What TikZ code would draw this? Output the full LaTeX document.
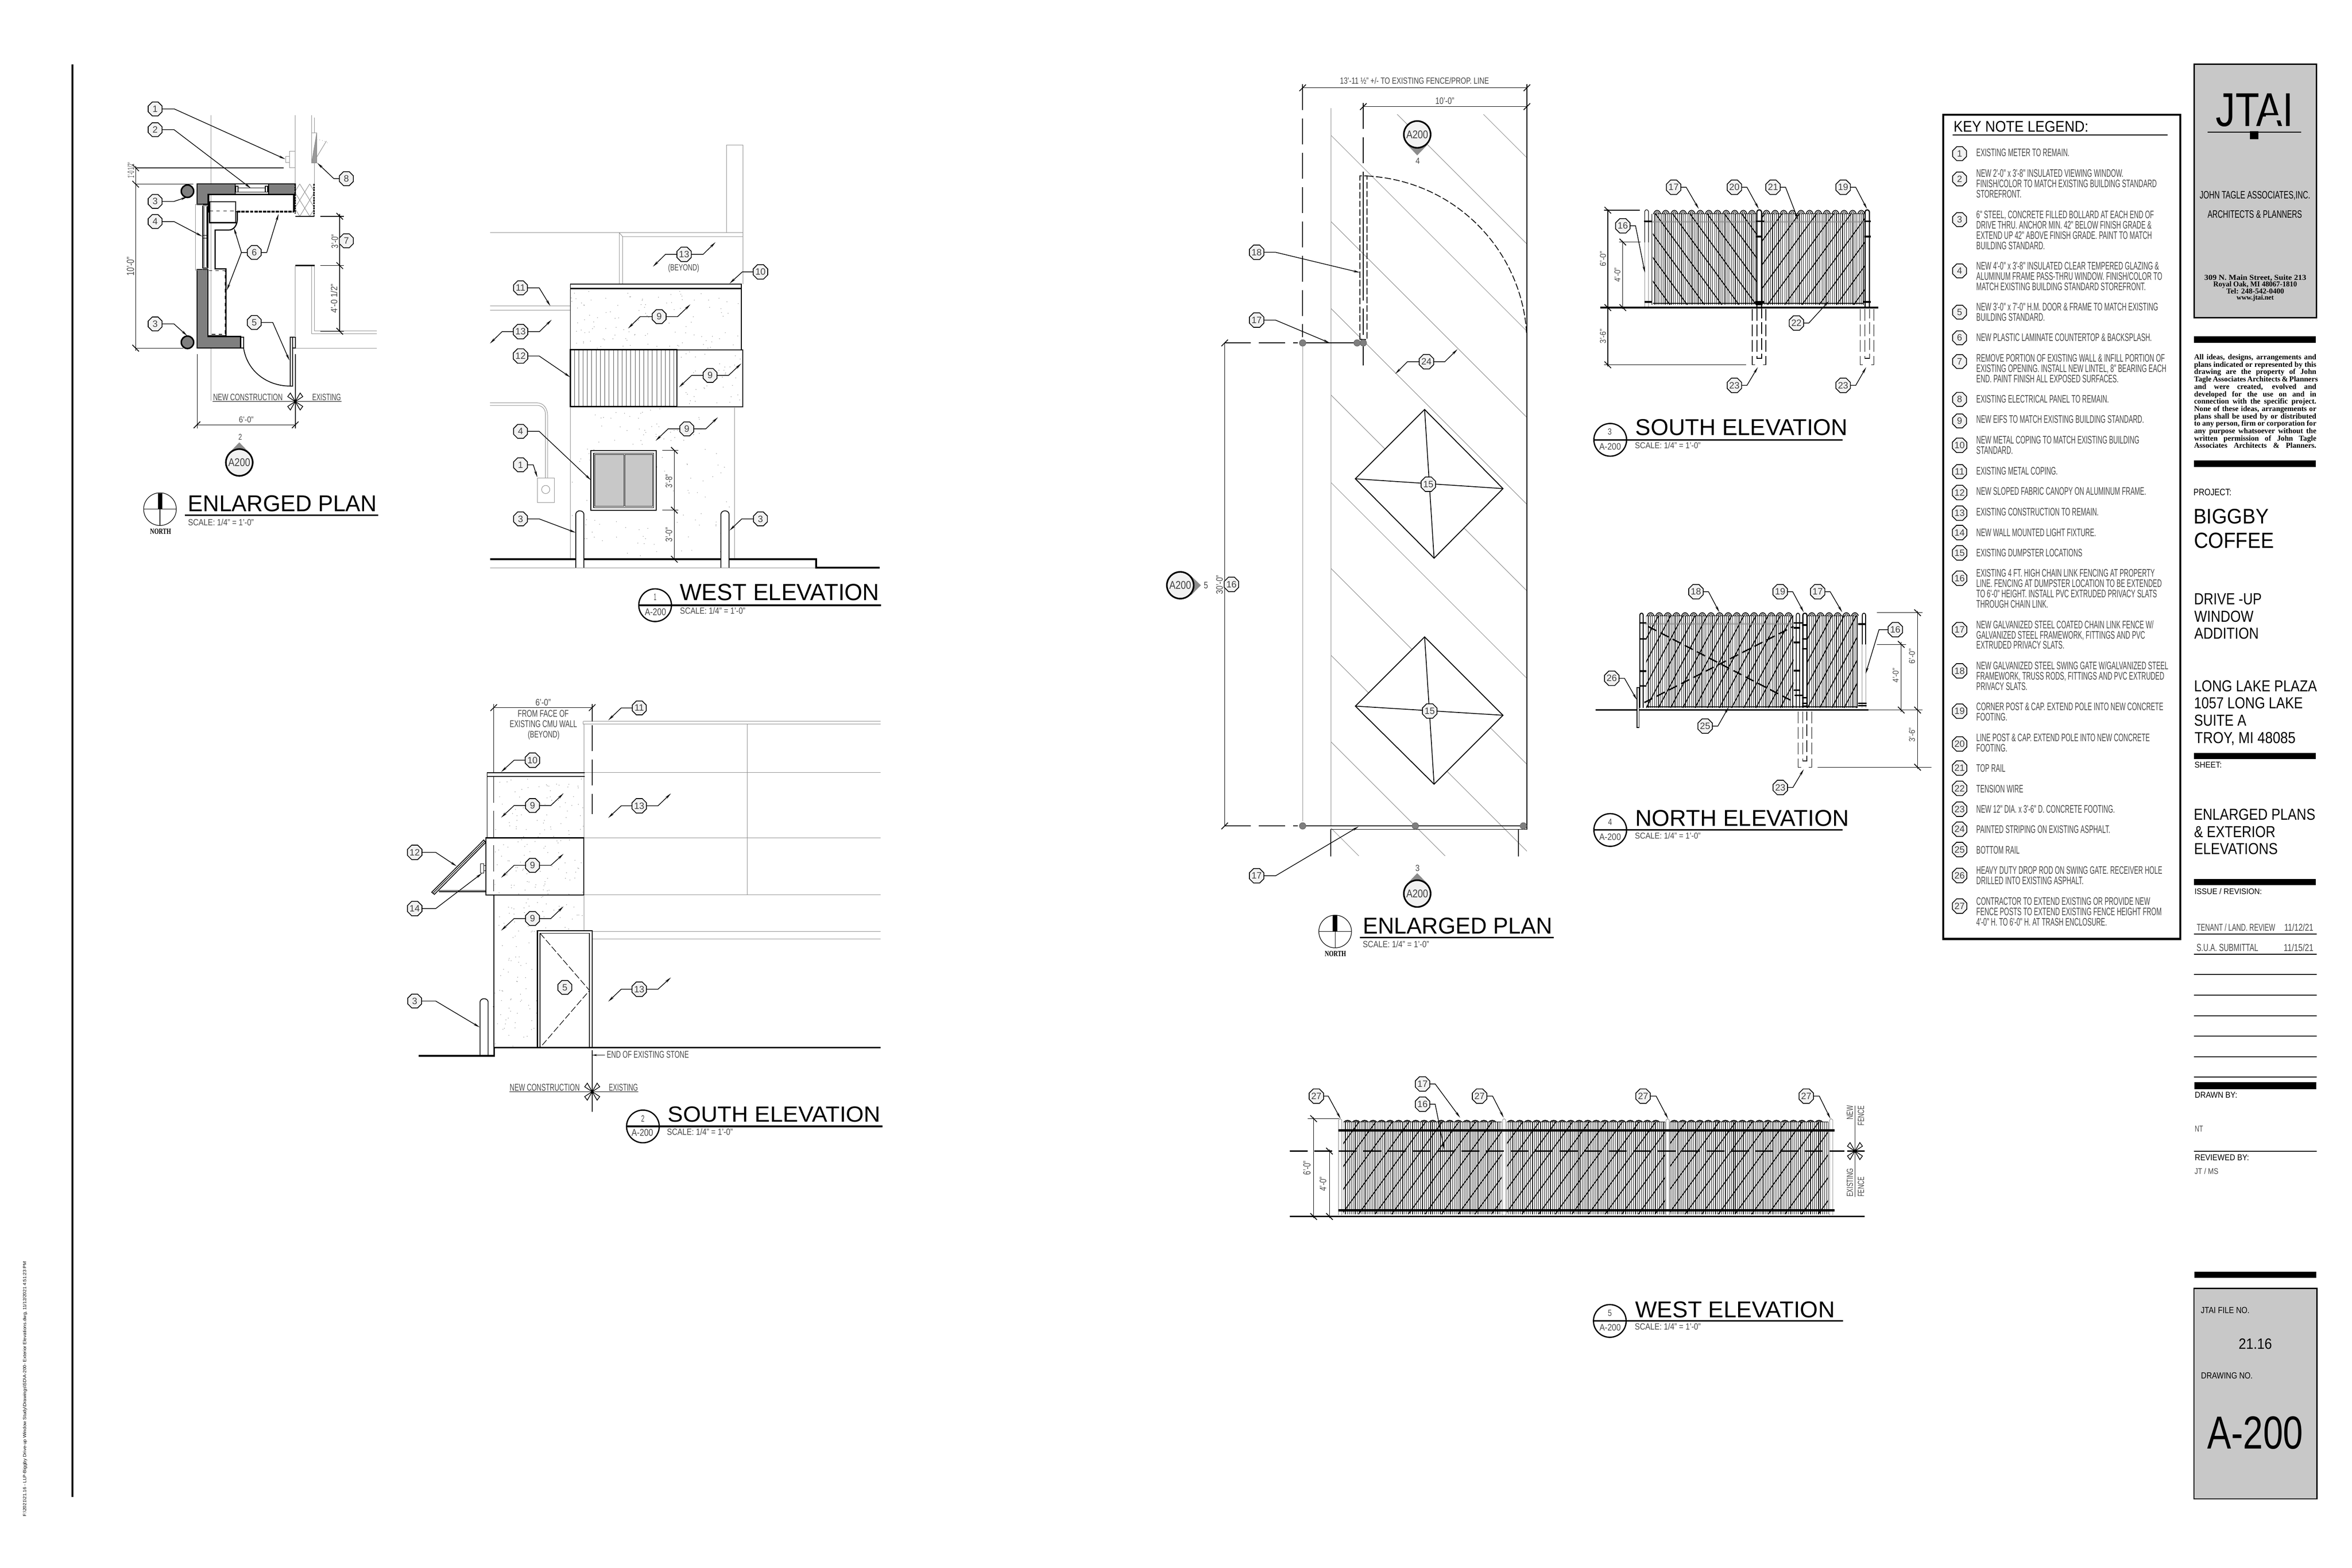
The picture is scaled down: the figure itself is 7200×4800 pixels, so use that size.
\documentclass[tikz,border=0pt]{standalone}
\usepackage{graphicx}
\usepackage{fontspec}
\setmainfont{Liberation Sans}
\newfontfamily\cadn[FakeStretch=.585]{Liberation Sans}
\newfontfamily\slab{Liberation Serif}
\usetikzlibrary{arrows.meta,shapes.geometric}
\definecolor{wallg}{HTML}{7F7F7F}
\definecolor{boxg}{HTML}{C8C8C8}
\definecolor{tagf}{HTML}{F2F2F2}
\newlength\pxu \setlength\pxu{0.01cm}
\newcounter{kc}
\tikzset{
 z1/.style={shift={(5900,300)},x=.00829cm,y=-.009566cm},
 z2/.style={shift={(5900,1700)},x=.00829cm,y=-.00829cm},
 z3/.style={shift={(6600,2900)},x=.003827cm,y=-.01148cm},
 z4/.style={shift={(400,280)},x=.005102cm,y=-.008929cm},
 z5/.style={shift={(1450,420)},x=.00829cm,y=-.009566cm},
 z6/.style={shift={(1200,2100)},x=.010204cm,y=-.009247cm},
 z7/.style={shift={(3550,200)},x=.00829cm,y=-.009566cm},
 z8/.style={shift={(3550,1700)},x=.00829cm,y=-.008929cm},
 z9/.style={shift={(4850,500)},x=.00574cm,y=-.00606cm},
 z10/.style={shift={(4850,1750)},x=.00574cm,y=-.00542cm},
 z11/.style={shift={(3900,3250)},x=.012117cm,y=-.00574cm},
 txt/.style={anchor=base west,inner sep=0pt,outer sep=0pt,text=black!72},
 tb/.style={text=black},
 sb/.style={text=black,font=\slab\bfseries},
 kn/.style={regular polygon,regular polygon sides=8,minimum size=.46cm,inner sep=0pt,outer sep=0pt,draw=black,fill=tagf,line width=.7pt,text=black!75,font=\fontsize{8}{8}\selectfont},
 ld/.style={line width=.6pt,-{Stealth[length=.2cm,width=.07cm]}},
 gl/.style={line width=.4pt,draw=black!45},
 bk/.style={line width=.7pt,draw=black},
 th/.style={line width=.5pt,draw=black},
 hv/.style={line width=1.4pt,draw=black},
 ld2/.style={dash pattern=on .8cm off .25cm},
 gd/.style={dash pattern=on .2cm off .07cm},
 fd/.style={dash pattern=on .36cm off .12cm},
 slat/.style={line width=.5pt,draw=black!90},
 dg/.style={line width=.8pt,draw=black},
 bub/.style={circle,draw=black,line width=1.1pt,minimum size=1cm,inner sep=0pt,outer sep=0pt},
 refc/.style={circle,draw=black,fill=tagf,line width=1.4pt,minimum size=.82cm,inner sep=0pt,outer sep=0pt,text=black!75},
 notet/.style={anchor=north west,inner sep=0pt,outer sep=0pt,align=left,text=black!72,font=\cadn\fontsize{9.53}{8.96}\selectfont},
}
\newcommand\FT[6][]{\stepcounter{kc}\node[txt,#1] (t\arabic{kc}) at (#2,#3) {\resizebox{#4\pxu}{#5\pxu}{#6}};}
\newcommand\KT[3]{\stepcounter{kc}\node[kn] (k\arabic{kc}) at (#1,#2) {#3};}
\newcommand\KN[6]{\stepcounter{kc}\node[kn] (k\arabic{kc}) at (#1,#2) {#3};\coordinate (c\arabic{kc}) at (#6);\draw[ld] (k\arabic{kc}.#4) -- (#5) -- (c\arabic{kc});}
\newcommand\KB[7]{\stepcounter{kc}\node[kn] (k\arabic{kc}) at (#1,#2) {#3};\coordinate (c\arabic{kc}) at (#5);\coordinate (d\arabic{kc}) at (#7);\draw[ld] (k\arabic{kc}.west) -- (#4) -- (c\arabic{kc});\draw[ld] (k\arabic{kc}.east) -- (#6) -- (d\arabic{kc});}
\newcommand\TK[2]{\draw[bk] (#1,#2) +(-.1cm,.1cm) -- +(.1cm,-.1cm);}
\newcommand\TF[2]{\draw[bk] (#1,#2) +(-.1cm,-.1cm) -- +(.1cm,.1cm);}
\newcommand\XM[2]{\foreach \sx/\sy in {1/1,-1/1,1/-1,-1/-1}{\draw[line width=.6pt] (#1,#2) -- +({\sx*.23cm},{\sy*.15cm}) -- +({\sx*.15cm},{\sy*.26cm}) -- cycle;}}
\newcommand\STIP[5]{\foreach \i in {1,...,#5}{\pgfmathsetmacro\aa{#1+rnd*(#3-#1)}\pgfmathsetmacro\bb{#2+rnd*(#4-#2)}\fill[black!45] (\aa,\bb) circle (.35pt);}}
\newcommand\NT[3]{\KT{119}{#2}{#1}\stepcounter{kc}\node[notet] (n\arabic{kc}) at (181,#3)}
\newcommand\BUBL[4]{\stepcounter{kc}\node[bub] (b\arabic{kc}) at (#1,#2) {};\coordinate (e\arabic{kc}) at (#3,#2);\draw[line width=1.4pt] (b\arabic{kc}.west) -- (e\arabic{kc});}
\newcommand\RC[2]{\stepcounter{kc}\node[refc] (r\arabic{kc}) at (#1,#2) {\resizebox{67\pxu}{24\pxu}{A200}};}
\newcommand\FENCE[8]{%
 \begin{scope}\clip (#1,#3) rectangle (#2,#4);
 \pgfmathsetmacro\xb{#1+#5}
 \foreach \x in {#1,\xb,...,#2}{\draw[slat] (\x,#3) -- (\x,#4);}
 \pgfmathsetmacro\da{#1-abs(#7)}\pgfmathsetmacro\db{\da+#6}\pgfmathsetmacro\dc{#2+abs(#7)}
 \foreach \x in {\da,\db,...,\dc}{\draw[dg] (\x,#3) -- ++(#7,#4-#3);}
 \end{scope}
 \pgfmathsetmacro\sa{#1+.5*#8}\pgfmathsetmacro\sb{\sa+#8}\pgfmathsetmacro\sc{#2-.2*#8}\pgfmathsetmacro\sw{.4*#8}\pgfmathsetmacro\sh{.5*#8}
 \foreach \x in {\sa,\sb,...,\sc}{\draw[bk] (\x-\sw,#3) .. controls (\x-.6*\sw,#3-\sh) and (\x+.6*\sw,#3-\sh) .. (\x+\sw,#3);\draw[slat] (\x-.5*\sw,#3) .. controls (\x-.3*\sw,#3-.6*\sh) and (\x+.3*\sw,#3-.6*\sh) .. (\x+.5*\sw,#3);}
 \draw[th] (#1,#3) -- (#2,#3);}
\begin{document}
\begin{tikzpicture}[x=.01cm,y=-.01cm]
\useasboundingbox (0,0) rectangle (7200,4800);
\fill[white] (0,0) rectangle (7200,4800);
\pgfmathsetseed{7}
% sheet
\draw[line width=1.4pt] (222,197) -- (222,4583);
\FT[rotate=90,text=black]{80}{4643}{781}{10}{F:\textbackslash 2021\textbackslash 21.16 - LLP-Biggby Drive-up Window Study\textbackslash Drawings\textbackslash SD\textbackslash A-200- Exterior Elevations.dwg, 11/12/2021 4:51:23 PM}
% title block top
\filldraw[fill=boxg,draw=black,line width=1.1pt] (6717,197) rectangle (7091,973);
\FT[tb]{6783}{386}{238}{100}{JTAI}
\fill[boxg] (6936,353) rectangle (6987,368);
\draw[bk] (6758,405) -- (7044,405);
\fill[black] (6888,402) rectangle (6913,426);
% legend box
\draw[line width=1.7pt] (5948,351) rectangle (6674,2875);
\begin{scope}[z1]
\FT[tb]{97}{108}{413}{33}{KEY NOTE LEGEND:}
\draw[bk] (94,118) -- (887,118);
\NT{1}{178}{163}{EXISTING METER TO REMAIN.};
\NT{2}{259}{229}{NEW 2'-0" x 3'-8" INSULATED VIEWING WINDOW.\\FINISH/COLOR TO MATCH EXISTING BUILDING STANDARD\\STOREFRONT.};
\NT{3}{389}{361}{6" STEEL, CONCRETE FILLED BOLLARD AT EACH END OF\\DRIVE THRU. ANCHOR MIN. 42" BELOW FINISH GRADE \&\\EXTEND UP 42" ABOVE FINISH GRADE. PAINT TO MATCH\\BUILDING STANDARD.};
\NT{4}{553}{525}{NEW 4'-0" x 3'-8" INSULATED CLEAR TEMPERED GLAZING \&\\ALUMINUM FRAME PASS-THRU WINDOW. FINISH/COLOR TO\\MATCH EXISTING BUILDING STANDARD STOREFRONT.};
\NT{5}{685}{656}{NEW 3'-0" x 7'-0" H.M. DOOR \& FRAME TO MATCH EXISTING\\BUILDING STANDARD.};
\NT{6}{767}{754}{NEW PLASTIC LAMINATE COUNTERTOP \& BACKSPLASH.};
\NT{7}{843}{820}{REMOVE PORTION OF EXISTING WALL \& INFILL PORTION OF\\EXISTING OPENING. INSTALL NEW LINTEL, 8" BEARING EACH\\END. PAINT FINISH ALL EXPOSED SURFACES.};
\NT{8}{964}{950}{EXISTING ELECTRICAL PANEL TO REMAIN.};
\NT{9}{1033}{1016}{NEW EIFS TO MATCH EXISTING BUILDING STANDARD.};
\NT{10}{1111}{1082}{NEW METAL COPING TO MATCH EXISTING BUILDING\\STANDARD.};
\NT{11}{1195}{1181}{EXISTING METAL COPING.};
\NT{12}{1262}{1246}{NEW SLOPED FABRIC CANOPY ON ALUMINUM FRAME.};
\NT{13}{1328}{1312}{EXISTING CONSTRUCTION TO REMAIN.};
\NT{14}{1390}{1378}{NEW WALL MOUNTED LIGHT FIXTURE.};
\NT{15}{1455}{1443}{EXISTING DUMPSTER LOCATIONS};
\FT[tb]{1006}{322}{338}{23}{JOHN TAGLE ASSOCIATES,INC.}
\FT[tb]{1035}{384}{289}{23}{ARCHITECTS \& PLANNERS}
\FT[sb]{1023}{582}{312}{16}{309 N. Main Street, Suite 213}
\FT[sb]{1056}{604}{256}{16}{Royal Oak, MI 48067-1810}
\FT[sb]{1104}{626}{177}{16}{Tel: 248-542-0400}
\FT[sb]{1142}{645}{114}{15}{www.jtai.net}
\fill[black] (985,762) rectangle (1435,783);
\stepcounter{kc}\node[anchor=north west,inner sep=0pt,outer sep=0pt,align=left,font=\slab\bfseries\fontsize{6.6}{6.42}\selectfont,text=black] (disc\arabic{kc}) at (985,820) {%
\makebox[3.74cm][s]{All ideas, designs, arrangements and}\\
\makebox[3.74cm][s]{plans indicated or represented by this}\\
\makebox[3.74cm][s]{drawing are the property of John}\\
\makebox[3.74cm][s]{Tagle Associates Architects \& Planners}\\
\makebox[3.74cm][s]{and were created, evolved and}\\
\makebox[3.74cm][s]{developed for the use on and in}\\
\makebox[3.74cm][s]{connection with the specific project.}\\
\makebox[3.74cm][s]{None of these ideas, arrangements or}\\
\makebox[3.74cm][s]{plans shall be used by or distributed}\\
\makebox[3.74cm][s]{to any person, firm or corporation for}\\
\makebox[3.74cm][s]{any purpose whatsoever without the}\\
\makebox[3.74cm][s]{written permission of John Tagle}\\
\makebox[3.74cm][s]{Associates Architects \& Planners.}};
\fill[black] (985,1160) rectangle (1435,1181);
\FT[tb]{983}{1271}{116}{20}{PROJECT:}
\FT[tb]{983}{1362}{230}{45}{BIGGBY}
\FT[tb]{985}{1440}{245}{47}{COFFEE}
\end{scope}
\begin{scope}[z2]
\NT{16}{85}{52}{EXISTING 4 FT. HIGH CHAIN LINK FENCING AT PROPERTY\\LINE.  FENCING AT DUMPSTER LOCATION TO BE EXTENDED\\TO 6'-0" HEIGHT. INSTALL PVC EXTRUDED PRIVACY SLATS\\THROUGH CHAIN LINK.};
\NT{17}{275}{241}{NEW GALVANIZED STEEL COATED CHAIN LINK FENCE W/\\GALVANIZED STEEL FRAMEWORK, FITTINGS AND PVC\\EXTRUDED PRIVACY SLATS.};
\NT{18}{427}{393}{NEW GALVANIZED STEEL SWING GATE W/GALVANIZED STEEL\\FRAMEWORK, TRUSS RODS, FITTINGS AND PVC EXTRUDED\\PRIVACY SLATS.};
\NT{19}{576}{545}{CORNER POST \& CAP. EXTEND POLE INTO NEW CONCRETE\\FOOTING.};
\NT{20}{697}{659}{LINE POST \& CAP. EXTEND POLE INTO NEW CONCRETE\\FOOTING.};
\NT{21}{786}{772}{TOP  RAIL};
\NT{22}{861}{848}{TENSION WIRE};
\NT{23}{938}{923}{NEW 12" DIA. x 3'-6" D. CONCRETE FOOTING.};
\NT{24}{1012}{999}{PAINTED STRIPING ON EXISTING ASPHALT.};
\NT{25}{1087}{1075}{BOTTOM RAIL};
\NT{26}{1183}{1150}{HEAVY DUTY DROP ROD ON SWING GATE. RECEIVER HOLE\\DRILLED INTO EXISTING ASPHALT.};
\NT{27}{1296}{1264}{CONTRACTOR TO EXTEND EXISTING OR PROVIDE NEW\\FENCE POSTS TO EXTEND EXISTING FENCE HEIGHT FROM\\4'-0" H. TO 6'-0" H. AT TRASH ENCLOSURE.};
\FT[tb]{985}{182}{207}{34}{DRIVE -UP}
\FT[tb]{986}{246}{181}{34}{WINDOW}
\FT[tb]{986}{309}{197}{34}{ADDITION}
\FT[tb]{985}{503}{376}{34}{LONG LAKE PLAZA}
\FT[tb]{985}{567}{333}{34}{1057 LONG LAKE}
\FT[tb]{985}{630}{160}{34}{SUITE A}
\FT[tb]{987}{694}{309}{34}{TROY, MI 48085}
\fill[black] (985,730) rectangle (1435,753);
\FT[tb]{987}{785}{83}{18}{SHEET:}
\FT[tb]{984}{978}{372}{34}{ENLARGED PLANS}
\FT[tb]{985}{1042}{249}{34}{\& EXTERIOR}
\FT[tb]{985}{1105}{256}{34}{ELEVATIONS}
\fill[black] (985,1195) rectangle (1435,1218);
\FT[tb]{987}{1252}{206}{18}{ISSUE / REVISION:}
\FT{995}{1387}{240}{22}{TENANT / LAND. REVIEW}
\FT{1318}{1387}{89}{22}{11/12/21}
\draw[line width=.9pt] (985,1399) -- (1437,1399);
\FT{994}{1463}{189}{22}{S.U.A. SUBMITTAL}
\FT{1316}{1463}{91}{22}{11/15/21}
\draw[line width=.9pt] (985,1474) -- (1437,1474);
\end{scope}
\begin{scope}[z3]
\foreach \yy in {73,128,183,237,292,346,545}{\draw[line width=.8pt] (303,\yy) -- (1285,\yy);}
\fill[black] (307,360) rectangle (1281,379);
\FT[tb]{310}{402}{130}{18}{DRAWN BY:}
\FT{310}{492}{25}{18}{NT}
\FT[tb]{310}{569}{166}{18}{REVIEWED BY:}
\FT{308}{605}{73}{18}{JT / MS}
\fill[black] (307,865) rectangle (1281,882);
\filldraw[fill=boxg,draw=black,line width=1pt] (303,910) rectangle (1285,1471);
\FT[tb]{358}{977}{149}{19}{JTAI FILE NO.}
\FT[tb]{660}{1072}{102}{32}{21.16}
\FT[tb]{360}{1151}{158}{19}{DRAWING NO.}
\FT[tb]{410}{1338}{293}{99}{A-200}
\end{scope}
% ---------- Enlarged plan 1
\begin{scope}[z4]
\draw[gl] (481,82) -- (481,1060);
\draw[gl] (988,82) -- (988,316);
\draw[gl] (1086,82) -- (1086,142) (1102,90) -- (1102,142) (1102,245) -- (1102,317);
\draw[gl] (988,880) -- (1478,880);
\draw[gl] (1086,597) -- (1086,830) -- (1478,830);
\draw[gl] (1102,597) -- (1102,820) -- (1478,820);
\draw[gl] (988,597) -- (988,840);
\draw[hv] (988,597) -- (1105,597);
\filldraw[fill=wallg,draw=black,line width=.9pt] (398,317) -- (628,317) -- (628,353) -- (463,353) -- (463,387) -- (398,387) -- cycle;
\filldraw[fill=wallg,draw=black,line width=.9pt] (827,317) -- (988,317) -- (988,353) -- (827,353) -- cycle;
\filldraw[fill=wallg,draw=black,line width=.9pt] (398,610) -- (463,610) -- (463,840) -- (660,840) -- (660,880) -- (398,880) -- cycle;
\draw[bk] (628,317) rectangle (827,353);
\draw[bk] (632,325) rectangle (645,345) (808,325) rectangle (822,345);
\draw[th] (645,330) -- (808,330) (645,345) -- (808,345);
\draw[gl] (390,387) rectangle (432,612);
\draw[bk] (432,392) -- (432,605) (463,392) -- (463,605) (432,392) -- (463,392) (432,605) -- (463,605);
\draw[th] (440,395) -- (440,603) (458,395) -- (458,603);
\draw[th] (432,493) rectangle (465,503);
\draw[hv] (463,353) -- (980,353) -- (980,412);
\draw[hv,dash pattern=on .1cm off .03cm] (640,412) -- (980,412);
\draw[th,dashed] (473,410) -- (630,410);
\draw[line width=1pt] (473,378) rectangle (630,450);
\draw[line width=1pt] (630,412) -- (640,412) -- (640,440) .. controls (638,462) and (615,475) .. (590,475) -- (507,475) -- (507,608) -- (572,608) -- (572,838) -- (463,838);
\draw[th,dashed] (468,615) -- (566,615) -- (566,833) -- (468,833);
\fill[black] (463,355) rectangle (472,415);
\begin{scope}
\clip (988,317) rectangle (1102,428);
\foreach \c in {-150,-90,...,150}{\draw[gl] (1045+\c-60,317) -- (1045+\c+60,428);\draw[gl] (1045+\c+60,317) -- (1045+\c-60,428);}
\end{scope}
\draw[hv,dash pattern=on .06cm off .02cm] (1100,317) -- (1100,428);
\draw[hv,dash pattern=on .06cm off .02cm] (987,317) -- (987,418);
\draw[bk] (988,428) -- (1102,428);
\draw[gl] (930,223) rectangle (953,243) (953,205) rectangle (987,261);
\filldraw[fill=black!40,draw=black!45,line width=.4pt] (1117,245) -- (1086,245) -- (1117,142) -- cycle;
\draw[gl] (1086,142) rectangle (1117,245);
\draw[gl] (1117,225) -- (1175,170);
\draw[gl,dotted] (1117,165) .. controls (1140,165) and (1170,170) .. (1190,180);
\filldraw[fill=white,draw=black,line width=.8pt] (662,842) rectangle (678,880);
\filldraw[fill=white,draw=black,line width=.8pt] (957,842) rectangle (972,1010);
\filldraw[fill=white,draw=black,line width=.8pt] (972,842) rectangle (988,880);
\draw[bk] (678,880) .. controls (700,960) and (820,1010) .. (957,1010);
% dims
\draw[th] (30,262) -- (918,262) (30,318) -- (375,318) (30,880) -- (318,880);
\draw[bk] (30,255) -- (30,890);
\TK{30}{262}\TK{30}{318}\TK{30}{880}
\FT[rotate=90]{20}{632}{58}{22}{10'-0"}
\FT[rotate=90]{20}{296}{46}{20}{1'-0 1/2"}
\draw[bk] (400,900) -- (400,1155) (988,900) -- (988,1155);
\draw[bk] (398,1143) -- (988,1143);
\TF{398}{1143}\TF{988}{1143}
\FT{650}{1135}{45}{18}{6'-0"}
\draw[th] (1138,428) -- (1280,428) (1138,597) -- (1280,597) (1138,822) -- (1280,822);
\draw[bk] (1255,420) -- (1255,825);
\TK{1255}{428}\TK{1255}{597}\TK{1255}{822}
\FT[rotate=90]{1245}{538}{43}{20}{3'-0"}
\FT[rotate=90]{1240}{760}{90}{20}{4'-0 1/2"}
\draw[th] (492,1063) -- (1265,1063);
\FT{495}{1060}{213}{20}{NEW CONSTRUCTION}
\FT{1090}{1060}{88}{20}{EXISTING}
\XM{988}{1063}
% tags
\KN{147}{60}{1}{east}{262,60}{928,232}
\KN{147}{131}{2}{east}{260,131}{722,332}
\KN{147}{377}{3}{east}{260,377}{340,362}
\KN{147}{446}{4}{east}{260,446}{430,497}
\KN{147}{797}{3}{east}{260,797}{340,838}
\KN{742}{792}{5}{east}{853,792}{953,922}
\stepcounter{kc}\node[kn] (six) at (742,552) {6};
\coordinate (six1) at (620,468);\coordinate (six2) at (577,682);\coordinate (six3) at (888,420);\coordinate (sixm) at (665,552);
\draw[ld] (six.west) -- (sixm) -- (six1);
\draw[ld] (sixm) -- (six2);
\draw[ld] (six.east) -- (817,552) -- (six3);
\KT{1295}{512}{7}
\KN{1295}{299}{8}{west}{1220,299}{1120,245}
\filldraw[fill=wallg,draw=black,line width=1.3pt] (341,342) circle (.19cm);
\filldraw[fill=wallg,draw=black,line width=1.3pt] (341,860) circle (.19cm);
\fill[black!45] (590,1240) -- (652,1203) -- (715,1240) -- cycle;
\RC{652}{1272}
\FT{647}{1195}{11}{18}{2}
% north
\draw[th] (176,1432) circle (.5cm);
\fill[black] (165,1378) rectangle (190,1432);
\draw[th] (78,1432) -- (274,1432) (176,1378) -- (176,1488);
\FT[sb]{117}{1517}{64}{16}{NORTH}
\FT[tb]{345}{1440}{578}{49}{ENLARGED PLAN}
\draw[line width=1.3pt] (325,1453) -- (1485,1453);
\FT{345}{1488}{201}{20}{SCALE: 1/4" = 1'-0"}
\end{scope}
% ---------- West elevation
\begin{scope}[z5]
\STIP{360}{490}{985}{675}{110}
\STIP{755}{685}{990}{858}{40}
\STIP{360}{865}{960}{1345}{130}
\draw[gl] (933,305) -- (933,26) -- (995,26) -- (995,470);
\draw[gl] (60,305) -- (995,305);
\draw[gl] (537,305) -- (550,318) -- (995,318);
\draw[gl] (537,305) -- (537,470) (550,318) -- (550,470);
\draw[gl] (60,540) -- (357,540) (60,553) -- (357,553);
\draw[gl] (60,850) -- (235,850) .. controls (258,850) and (273,868) .. (273,890) -- (273,1090);
\draw[gl] (60,858) -- (235,858) .. controls (252,858) and (265,870) .. (265,885) -- (265,1090);
\draw[gl] (236,1090) rectangle (298,1168);
\draw[gl] (266,1127) circle (.125cm);
\draw[bk] (357,470) rectangle (988,484);
\draw[line width=1pt] (357,484) -- (988,484);
\draw[bk] (357,484) -- (357,680) (988,484) -- (988,680);
\foreach \x in {372,388,...,740}{\draw[line width=.4pt,draw=black!70] (\x,680) -- (\x,862);}
\draw[line width=1pt] (357,680) rectangle (750,862);
\draw[line width=.9pt] (750,680) rectangle (993,862);
\draw[gl] (357,862) -- (357,1350) (963,862) -- (963,1350);
\filldraw[fill=white,draw=black,line width=.7pt] (433,1002) rectangle (674,1193);
\draw[th] (443,1011) rectangle (665,1185);
\filldraw[fill=boxg,draw=black,line width=.4pt] (447,1015) rectangle (555,1181);
\filldraw[fill=boxg,draw=black,line width=.4pt] (559,1015) rectangle (661,1181);
\draw[th] (741,1002) -- (741,1350) (696,1002) -- (755,1002) (696,1193) -- (755,1193);
\TK{741}{1002}\TK{741}{1193}\TK{741}{1350}
\FT[rotate=90]{733}{1122}{42}{20}{3'-8"}
\FT[rotate=90]{733}{1295}{45}{20}{3'-0"}
\draw[gl] (60,1377) -- (1265,1377);
\draw[line width=1.5pt] (60,1350) -- (1265,1350) -- (1265,1377) -- (1500,1377);
\filldraw[fill=white,draw=black,line width=.7pt] (377,1377) -- (377,1205) .. controls (380,1192) and (404,1192) .. (407,1205) -- (407,1377);
\filldraw[fill=white,draw=black,line width=.7pt] (913,1377) -- (913,1205) .. controls (916,1192) and (940,1192) .. (943,1205) -- (943,1377);
\KB{777}{375}{13}{708,375}{662,414}{847,375}{893,336}
\FT{718}{427}{95}{20}{(BEYOND)}
\KN{1059}{431}{10}{west}{992,431}{945,468}
\KN{173}{482}{11}{east}{242,482}{283,540}
\KB{685}{574}{9}{615,574}{570,612}{753,574}{800,535}
\KB{173}{622}{13}{105,622}{60,660}{243,622}{288,584}
\KN{173}{700}{12}{east}{242,700}{357,768}
\KB{873}{762}{9}{805,762}{758,800}{941,762}{988,724}
\KB{787}{933}{9}{718,933}{672,971}{857,933}{902,896}
\KN{173}{941}{4}{east}{242,941}{433,1097}
\KN{173}{1048}{1}{east}{220,1048}{235,1088}
\KN{173}{1221}{3}{east}{242,1221}{377,1265}
\KN{1059}{1221}{3}{west}{990,1221}{945,1258}
\BUBL{670}{1497}{1505}{}
\FT{665}{1482}{8}{20}{1}
\FT{632}{1530}{65}{21}{A-200}
\FT[tb]{762}{1482}{610}{50}{WEST ELEVATION}
\FT{762}{1525}{200}{20}{SCALE: 1/4" = 1'-0"}
\end{scope}
% ---------- South elevation 2
\begin{scope}[z6]
\STIP{308}{305}{575}{500}{70}
\STIP{308}{508}{572}{690}{70}
\STIP{308}{695}{573}{810}{40}
\STIP{308}{810}{434}{1195}{60}
\draw[gl] (573,117) -- (1465,117) (573,127) -- (1465,127) (573,117) -- (573,127);
\draw[gl] (575,127) -- (575,810) (1065,127) -- (1065,692);
\draw[gl] (575,287) -- (1465,287) (575,503) -- (1465,503) (575,692) -- (1465,692) (600,813) -- (1465,813) (600,837) -- (1465,837);
\draw[line width=1pt] (285,287) -- (578,287);
\draw[th] (285,300) -- (578,300);
\draw[bk] (285,287) -- (285,503);
\draw[line width=.9pt] (281,503) rectangle (575,692);
\draw[bk] (305,692) -- (305,1197);
\draw[th] (305,60) -- (305,287);
\draw[th,ld2] (305,300) -- (305,680);
\draw[th] (600,60) -- (600,117);
\draw[th,ld2] (600,130) -- (600,425);
\draw[th] (305,72) -- (600,72);
\TF{305}{72}\TF{600}{72}
\FT{430}{66}{47}{20}{6'-0"}
\FT{377}{103}{156}{21}{FROM FACE OF}
\FT{353}{137}{206}{21}{EXISTING CMU WALL}
\FT{407}{172}{97}{21}{(BEYOND)}
\draw[line width=.9pt] (436,1197) -- (436,810) -- (600,810) -- (600,1197);
\draw[bk] (444,1197) -- (444,819) -- (592,819) -- (592,1197);
\draw[th,gd] (444,819) -- (592,1008) -- (444,1197);
\draw[line width=1.5pt] (80,1224) -- (306,1224) -- (306,1197) -- (1465,1197);
\draw[bk] (264,1224) -- (264,1045) .. controls (266,1032) and (286,1032) .. (288,1045) -- (288,1224);
\draw[bk] (119,683) -- (275,510) -- (281,518) -- (127,690) -- cycle;
\draw[th] (123,686) -- (278,514);
\draw[th] (140,677) -- (281,677) (140,681) -- (281,681);
\draw[th] (265,588) rectangle (275,620) (275,595) rectangle (281,612);
\fill[black] (305,1062) circle (.7pt);
\KN{741}{73}{11}{west}{687,73}{648,114}
\KN{421}{246}{10}{west}{366,246}{327,285}
\KB{421}{396}{9}{366,396}{327,436}{476,396}{514,356}
\KB{741}{397}{13}{687,397}{648,437}{797,397}{836,356}
\KB{421}{594}{9}{366,594}{327,635}{476,594}{514,556}
\KN{68}{551}{12}{east}{131,551}{194,597}
\KN{68}{737}{14}{east}{131,737}{270,620}
\KB{421}{770}{9}{366,770}{327,810}{476,770}{514,730}
\KT{518}{998}{5}
\KB{741}{1004}{13}{687,1004}{648,1045}{797,1004}{836,965}
\KN{68}{1043}{3}{east}{131,1043}{263,1130}
\draw[th] (600,1205) -- (600,1410);
\coordinate (stE) at (600,1222);
\draw[th,-{Stealth[length=.15cm,width=.06cm]}] (638,1222) -- (stE);
\FT{644}{1231}{251}{21}{END OF EXISTING STONE}
\FT{353}{1341}{214}{21}{NEW CONSTRUCTION}
\FT{650}{1341}{89}{21}{EXISTING}
\draw[th] (352,1343) -- (738,1343);
\XM{600}{1343}
\BUBL{752}{1458}{1470}{}
\FT{747}{1443}{10}{20}{2}
\FT{718}{1490}{66}{21}{A-200}
\FT[tb]{827}{1443}{651}{47}{SOUTH ELEVATION}
\FT{824}{1487}{202}{20}{SCALE: 1/4" = 1'-0"}
\end{scope}
% ---------- Enlarged plan 2: hatch in sheet pixels
\begin{scope}
\clip (4074,351) rectangle (4674,2620);
\foreach \c in {4191,3927,3660,3396,3130,2865,2597,2334,2068,1803,1539}{\draw[gl] (4074,4074-\c) -- (7074,7074-\c);}
\end{scope}
\filldraw[fill=white,draw=black,line width=.8pt] (4149,1466) -- (4361,1254) -- (4601,1496) -- (4390,1709) -- cycle;
\filldraw[fill=white,draw=black,line width=.8pt] (4149,2162) -- (4361,1950) -- (4601,2190) -- (4390,2401) -- cycle;
\draw[bk] (4361,1254) -- (4390,1709) (4149,1466) -- (4601,1496);
\draw[bk] (4361,1950) -- (4390,2401) (4149,2162) -- (4601,2190);
\draw[gl] (4074,331) -- (4074,2529);
\draw[gl] (3988,1060) -- (3988,2514);
\draw[line width=.9pt] (4674,343) -- (4674,2540);
\draw[bk] (3749,1050) -- (3749,2529);
\begin{scope}[z7]
\draw[th] (528,72) -- (1356,72);
\draw[th] (752,132) -- (1356,132);
\draw[th] (1356,60) -- (1356,150);
\TF{528}{72}\TF{1356}{72}\TF{752}{132}\TF{1356}{132}
\FT{666}{60}{456}{20}{13'-11 ½" +/- TO EXISTING FENCE/PROP. LINE}
\FT{1018}{124}{58}{20}{10'-0"}
\draw[bk,ld2] (528,60) -- (528,870);
\draw[bk,ld2] (752,120) -- (752,960);
\draw[bk,gd] (740,877) -- (740,354) -- (766,354) -- (766,877) -- cycle;
\draw[bk] (752,354) -- (752,735);
\draw[bk,gd] (766,354) .. controls (1100,370) and (1340,600) .. (1355,860);
\draw[line width=1pt] (540,888) -- (720,888);
\draw[bk,ld2] (240,888) -- (510,888);
\TF{240}{888}
\foreach \x in {528,729,752}{\filldraw[fill=wallg,draw=black!60,line width=.4pt] (\x,888) circle (.1cm);}
\KN{358}{598}{18}{east}{428,598}{740,663}
\KN{358}{815}{17}{east}{428,815}{628,888}
\KB{985}{948}{24}{915,948}{870,987}{1053,948}{1100,908}
\KT{992}{1340}{15}
\fill[black!45] (915,255) -- (951,288) -- (988,255) -- cycle;
\RC{951}{221}
\FT{945}{316}{13}{18}{4}
\end{scope}
\begin{scope}[z8]
\fill[black!45] (115,70) -- (152,103) -- (115,138) -- cycle;
\RC{76}{103}
\FT{163}{115}{13}{20}{5}
\FT[rotate=90]{233}{133}{58}{20}{30'-0"}
\KT{265}{100}{16}
\KT{997}{534}{15}
\TF{240}{928}
\draw[bk,ld2] (240,928) -- (510,928);
\draw[line width=1pt] (540,928) -- (1356,928);
\draw[bk] (632,1032) -- (632,940) -- (1325,940) -- (1325,1032);
\draw[bk] (1325,940) -- (1356,940);
\foreach \x in {528,944,1343}{\filldraw[fill=wallg,draw=black!60,line width=.4pt] (\x,928) circle (.1cm);}
\KN{358}{1099}{17}{east}{428,1099}{735,930}
\fill[black!45] (915,1125) -- (951,1090) -- (988,1125) -- cycle;
\RC{951}{1160}
\FT{944}{1083}{13}{19}{3}
\draw[th] (648,1290) circle (.5cm);
\fill[black] (638,1234) rectangle (656,1290);
\draw[th] (587,1290) -- (709,1290) (648,1234) -- (648,1346);
\FT[sb]{610}{1375}{65}{16}{NORTH}
\FT[tb]{750}{1298}{580}{49}{ENLARGED PLAN}
\draw[line width=1.3pt] (740,1311) -- (1455,1311);
\FT{750}{1345}{203}{20}{SCALE: 1/4" = 1'-0"}
\end{scope}
% ---------- Fence south elevation
\begin{scope}[z9]
\FENCE{365}{918}{255}{715}{11}{92}{354}{46}
\FENCE{948}{1498}{255}{715}{11}{92}{-354}{46}
\draw[gl] (320,293) -- (1525,293) (320,298) -- (1525,298);
\draw[th] (322,400) -- (322,243) .. controls (324,232) and (340,232) .. (342,243) -- (342,400);
\draw[gl] (322,400) -- (322,725) (342,400) -- (342,725);
\filldraw[fill=white,draw=black,line width=1pt] (920,735) -- (920,245) .. controls (922,232) and (943,232) .. (945,245) -- (945,735);
\filldraw[fill=white,draw=black,line width=1pt] (1497,725) -- (1497,245) .. controls (1499,232) and (1518,232) .. (1520,245) -- (1520,725);
\draw[th] (360,255) -- (360,715);
\draw[hv] (318,293) -- (360,293) (915,293) -- (960,293) (915,370) -- (948,370) (1492,293) -- (1527,293) (1492,370) -- (1527,370);
\draw[hv] (320,700) -- (360,700) (910,700) -- (960,700) (915,712) -- (950,712) (1485,700) -- (1527,700);
\draw[line width=.9pt] (365,708) -- (1490,708);
\draw[line width=1.5pt] (85,729) -- (1568,729);
\foreach \dx in {0,576}{
\draw[th,fd] (895+\dx,735) -- (895+\dx,1018) -- (925+\dx,1018);
\draw[th,fd] (968+\dx,735) -- (968+\dx,1018) -- (940+\dx,1018);
\draw[bk,fd] (920+\dx,735) -- (920+\dx,985) -- (945+\dx,985) -- (945+\dx,735);
}
\draw[th] (125,232) -- (125,1025) (105,237) -- (295,237) (105,1018) -- (862,1018);
\draw[th] (205,392) -- (205,735) (185,398) -- (300,398);
\TK{125}{237}\TK{125}{729}\TK{125}{1018}\TK{205}{398}\TK{205}{729}
\FT[rotate=90]{115}{520}{46}{18}{6'-0"}
\FT[rotate=90]{115}{910}{44}{18}{3'-6"}
\FT[rotate=90]{192}{600}{44}{18}{4'-0"}
\KN{476}{121}{17}{east}{543,121}{610,230}
\KN{800}{121}{20}{east}{867,121}{930,230}
\KN{1006}{121}{21}{east}{1073,121}{1140,285}
\KN{1380}{121}{19}{east}{1447,121}{1507,230}
\KN{205}{316}{16}{east}{273,316}{323,552}
\KN{1131}{807}{22}{east}{1197,807}{1305,695}
\KN{800}{1122}{23}{east}{867,1122}{925,1030}
\KN{1380}{1122}{23}{east}{1447,1122}{1503,1030}
\BUBL{138}{1397}{1378}{}
\FT{125}{1372}{12}{19}{3}
\FT{80}{1447}{66}{20}{A-200}
\FT[tb]{272}{1374}{650}{49}{SOUTH ELEVATION}
\FT{270}{1440}{201}{19}{SCALE: 1/4" = 1'-0"}
\end{scope}
% ---------- Fence north elevation
\begin{scope}[z10]
\FENCE{330}{1115}{250}{770}{11}{65}{-260}{46}
\FENCE{1190}{1455}{250}{770}{11}{65}{-260}{46}
\draw[gl] (320,292) -- (1115,292) (320,298) -- (1115,298);
\draw[line width=.9pt] (296,770) -- (296,245) .. controls (298,232) and (312,232) .. (314,245) -- (314,770);
\draw[bk] (1130,770) -- (1130,245) .. controls (1132,232) and (1146,232) .. (1148,245) -- (1148,770);
\filldraw[fill=white,draw=black,line width=1pt] (1165,770) -- (1165,245) .. controls (1167,232) and (1185,232) .. (1187,245) -- (1187,770);
\draw[bk] (1482,412) -- (1482,245) .. controls (1484,232) and (1498,232) .. (1500,245) -- (1500,412);
\draw[gl] (1482,412) -- (1482,770) (1500,412) -- (1500,770);
\draw[bk] (1455,250) -- (1455,770);
\draw[hv] (293,290) -- (332,290) (293,380) -- (332,380) (293,563) -- (332,563) (293,646) -- (332,646);
\draw[hv] (1115,290) -- (1165,290) (1115,318) -- (1150,318) (1115,400) -- (1150,400) (1115,560) -- (1150,560) (1115,670) -- (1150,670) (1120,700) -- (1165,700) (1160,302) -- (1190,302) (1160,380) -- (1190,380) (1160,437) -- (1190,437) (1160,712) -- (1190,712) (1160,745) -- (1190,745) (1160,760) -- (1190,760) (1460,297) -- (1500,297) (1460,745) -- (1505,745) (1460,758) -- (1505,758);
\draw[line width=1.2pt,dash pattern=on .28cm off .14cm] (320,740) -- (1115,310);
\draw[line width=1.2pt,dash pattern=on .28cm off .14cm] (340,310) -- (1115,735);
\draw[line width=.9pt] (330,765) -- (1455,765);
\draw[line width=1.5pt] (60,782) -- (1515,782);
\draw[th] (1515,782) -- (1568,782);
\filldraw[fill=white,draw=black,line width=.8pt] (280,655) rectangle (292,882);
\draw[th,fd] (1140,790) -- (1140,1105) -- (1170,1105);
\draw[th,fd] (1212,790) -- (1212,1105) -- (1182,1105);
\draw[bk,fd] (1165,790) -- (1165,1070) -- (1187,1070) -- (1187,790);
\draw[th] (1243,1105) -- (1850,1105);
\KN{595}{114}{18}{east}{662,114}{720,230}
\KN{1044}{114}{19}{east}{1111,114}{1170,230}
\KN{1244}{114}{17}{east}{1311,114}{1375,230}
\KN{146}{603}{26}{east}{214,603}{280,725}
\KN{644}{873}{25}{east}{712,873}{770,765}
\KN{1045}{1220}{23}{east}{1112,1220}{1170,1117}
\BUBL{138}{1460}{1378}{}
\FT{127}{1432}{12}{19}{4}
\FT{80}{1518}{66}{20}{A-200}
\FT[tb]{272}{1438}{654}{49}{NORTH ELEVATION}
\FT{270}{1510}{201}{19}{SCALE: 1/4" = 1'-0"}
\end{scope}
\draw[th] (5745,1876) -- (5885,1876) (5745,1973) -- (5835,1973) (5720,2174) -- (5885,2174);
\draw[th] (5870,1870) -- (5870,2355) (5820,1966) -- (5820,2180);
\TK{5870}{1876}\TK{5870}{2174}\TK{5870}{2349}\TK{5820}{1973}\TK{5820}{2174}
\FT[rotate=90]{5862}{2032}{46}{18}{6'-0"}
\FT[rotate=90]{5812}{2090}{44}{18}{4'-0"}
\FT[rotate=90]{5862}{2272}{44}{18}{3'-6"}
\KN{5802}{1928}{16}{west}{5752,1928}{5711,2063}
% ---------- Fence west elevation
\begin{scope}[z11]
\FENCE{175}{575}{322}{815}{5}{42}{-170}{21.5}
\FENCE{588}{988}{322}{815}{5}{42}{-170}{21.5}
\FENCE{1000}{1400}{322}{815}{5}{42}{-170}{21.5}
\foreach \x in {163,577,990,1403}{\draw[gl] (\x,820) -- (\x,312) -- (\x+4,305) -- (\x+8,312) -- (\x+8,820);}
\draw[line width=1.1pt] (162,364) -- (1415,364) (162,370) -- (1415,370) (162,791) -- (1415,791) (162,797) -- (1415,797);
\draw[line width=1.5pt,dash pattern=on .55cm off .2cm] (40,478) -- (1440,478);
\draw[line width=1.5pt] (40,827) -- (1492,827);
\draw[line width=1.5pt] (1448,478) -- (1492,478);
\draw[th] (100,298) -- (100,835) (85,305) -- (165,305) (140,470) -- (140,835);
\TK{100}{305}\TK{100}{827}\TK{140}{478}\TK{140}{827}
\FT[rotate=90]{92}{605}{43}{22}{6'-0"}
\FT[rotate=90]{132}{692}{44}{20}{4'-0"}
\draw[th] (1467,235) -- (1467,722);
\XM{1467}{478}
\FT[rotate=90]{1462}{310}{43}{19}{NEW}
\FT[rotate=90]{1490}{342}{61}{19}{FENCE}
\FT[rotate=90]{1462}{722}{87}{19}{EXISTING}
\FT[rotate=90]{1490}{722}{61}{19}{FENCE}
\KN{107}{185}{27}{east}{137,185}{168,305}
\KN{519}{185}{27}{east}{552,185}{580,300}
\KN{932}{185}{27}{east}{965,185}{995,305}
\KN{1344}{185}{27}{east}{1377,185}{1405,305}
\KN{375}{120}{17}{east}{407,120}{470,300}
\KN{375}{228}{16}{east}{407,228}{430,470}
\BUBL{848}{1384}{1437}{}
\FT{843}{1358}{12}{19}{5}
\FT{822}{1435}{65}{20}{A-200}
\FT[tb]{912}{1365}{611}{49}{WEST ELEVATION}
\FT{911}{1430}{202}{20}{SCALE: 1/4" = 1'-0"}
\end{scope}
\end{tikzpicture}
\end{document}
